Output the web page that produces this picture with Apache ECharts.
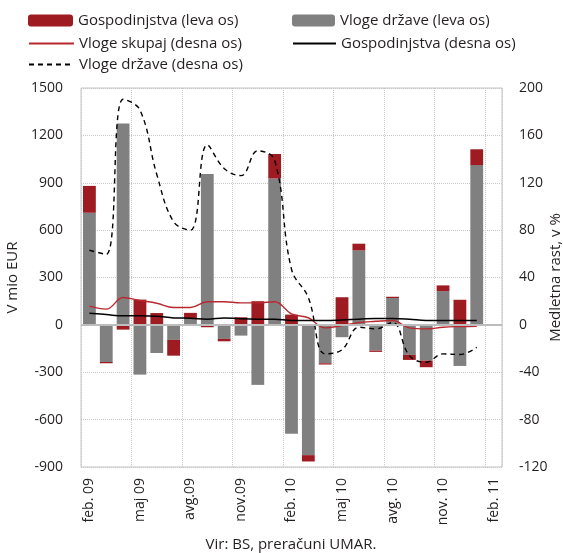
<!DOCTYPE html>
<html>
<head>
<meta charset="utf-8">
<script src="https://cdn.jsdelivr.net/npm/echarts@6/dist/echarts.min.js"></script>
<style>
  html, body { margin: 0; padding: 0; background: #fff; }
  #chart { width: 563px; height: 553px; }
</style>
</head>
<body>
<div id="chart"></div>
<script>
// mesečni podatki feb.09 - feb.11
var months = ['feb. 09', 'mar.09', 'apr.09', 'maj 09', 'jun.09', 'jul.09', 'avg.09', 'sep.09', 'okt.09', 'nov.09', 'dec.09', 'jan.10',
              'feb. 10', 'mar.10', 'apr.10', 'maj 10', 'jun.10', 'jul.10', 'avg. 10', 'sep.10', 'okt.10', 'nov. 10', 'dec.10', 'jan.11', 'feb. 11'];

// leva os, mio EUR
var gospodinjstvaBar = [170, -8, -30, 160, 75, -100, 36, -15, -15, 48, 150, 155, 65, -40, -8, 175, 42, -8, 8, -32, -42, 36, 159, 100, null];
var vlogeDrzaveBar = [710, -235, 1275, -315, -178, -95, 40, 955, -89, -68, -380, 927, -690, -825, -243, -78, 472, -163, 170, -190, -226, 214, -260, 1012, null];

// desna os, medletna rast v %
var vlogeSkupaj = [15.8, 13.3, 23.1, 20.6, 18.3, 14.7, 14.7, 19.5, 19.5, 18.6, 18.6, 19.5, 9.3, 6, -2.5, -0.6, 2, 3, 3.7, -2.5, -3.4, -2, -1.4, -1.1, null];
var gospodinjstvaLine = [9.9, 8.7, 7.6, 7.6, 7.3, 5.9, 5.6, 4.8, 5.9, 5.1, 4.8, 4.8, 3.7, 3.7, 3.7, 4.2, 4.8, 5.4, 5.4, 4.8, 3.7, 3.7, 3.7, 3.7, null];
var vlogeDrzaveLine = [63, 59.5, 190.5, 181.5, 127, 87, 80, 152, 132, 126, 147, 139, 47, 23, -24.5, -21, -2, -3.4, 2, -26, -31.5, -24.5, -25, -19, null];

var txt = '#231F20';
var font = 'Open Sans';

var chart = echarts.init(document.getElementById('chart'), null, {renderer: 'canvas'});

var legendText = {color: txt, fontSize: 15, fontFamily: font};
// pri črtah brez krogca v legendi
var noDot = {opacity: 0};

var option = {
    animation: false,
    textStyle: {fontFamily: font},
    legend: [
        {left: 23, top: 8, itemWidth: 45, itemHeight: 12, itemGap: 6, textStyle: legendText, data: ['Gospodinjstva (leva os)']},
        {left: 287, top: 8, itemWidth: 43, itemHeight: 12, itemGap: 6, textStyle: legendText, data: ['Vloge države (leva os)']},
        {left: 23, top: 31, itemWidth: 45, itemHeight: 12, textStyle: legendText, itemStyle: noDot, data: ['Vloge skupaj (desna os)']},
        {left: 287, top: 31, itemWidth: 43, itemHeight: 12, textStyle: legendText, itemStyle: noDot, data: ['Gospodinjstva (desna os)']},
        {left: 23, top: 52, itemWidth: 45, itemHeight: 12, textStyle: legendText, itemStyle: noDot, data: ['Vloge države (desna os)']}
    ],
    grid: {
        left: 81, right: 61, top: 88, bottom: 86,
        outerBoundsMode: 'none',
        show: true, borderColor: '#C4C4C4', borderWidth: 1
    },
    xAxis: {
        type: 'category',
        data: months,
        axisLine: {show: false},
        axisTick: {show: false},
        axisLabel: {interval: 2, rotate: 90, color: txt, fontSize: 14, margin: 11},
        splitLine: {show: true, interval: 2, lineStyle: {color: '#C8C8C8', type: 'dotted'}}
    },
    yAxis: [
        {
            type: 'value', min: -900, max: 1500, interval: 300,
            name: 'V mio EUR', nameLocation: 'middle', nameGap: 61,
            nameTextStyle: {color: txt, fontSize: 15},
            axisLine: {show: false}, axisTick: {show: false},
            axisLabel: {color: txt, fontSize: 14, margin: 18, formatter: function (v) { return String(v); }},
            splitLine: {lineStyle: {color: '#C8C8C8', type: 'dotted'}}
        },
        {
            type: 'value', min: -120, max: 200, interval: 40,
            name: 'Medletna rast, v %', nameLocation: 'middle', nameGap: 46, nameRotate: 90,
            nameMoveOverlap: false,
            nameTextStyle: {color: txt, fontSize: 15},
            axisLine: {show: false}, axisTick: {show: false},
            axisLabel: {color: txt, fontSize: 14, margin: 17},
            splitLine: {show: false}
        }
    ],
    series: [
        {
            name: 'Vloge države (leva os)', type: 'bar', stack: 'vloge', yAxisIndex: 0,
            data: vlogeDrzaveBar, barCategoryGap: '24%',
            itemStyle: {color: '#808080'},
            markLine: {
                silent: true, symbol: 'none', label: {show: false},
                lineStyle: {color: '#BDBDBD', width: 2, type: 'solid'},
                data: [{yAxis: 0}]
            }
        },
        {
            name: 'Gospodinjstva (leva os)', type: 'bar', stack: 'vloge', yAxisIndex: 0,
            data: gospodinjstvaBar,
            itemStyle: {color: '#9E1B21'}
        },
        {
            name: 'Vloge skupaj (desna os)', type: 'line', yAxisIndex: 1, data: vlogeSkupaj,
            smooth: 0.4, symbol: 'none',
            lineStyle: {color: '#B8282E', width: 1.4},
            itemStyle: {color: '#B8282E'}
        },
        {
            name: 'Gospodinjstva (desna os)', type: 'line', yAxisIndex: 1, data: gospodinjstvaLine,
            smooth: 0.4, symbol: 'none',
            lineStyle: {color: '#000', width: 1.5},
            itemStyle: {color: '#000'}
        },
        {
            name: 'Vloge države (desna os)', type: 'line', yAxisIndex: 1, data: vlogeDrzaveLine,
            smooth: 0.4, symbol: 'none',
            lineStyle: {color: '#000', width: 1.4, type: [5, 4]},
            itemStyle: {color: '#000'}
        }
    ],
    graphic: [{
        type: 'text', x: 291, y: 545,
        style: {text: 'Vir: BS, preračuni UMAR.', fill: txt, fontSize: 15, fontFamily: font, align: 'center', verticalAlign: 'middle'}
    }]
};

chart.setOption(option);
</script>
</body>
</html>
